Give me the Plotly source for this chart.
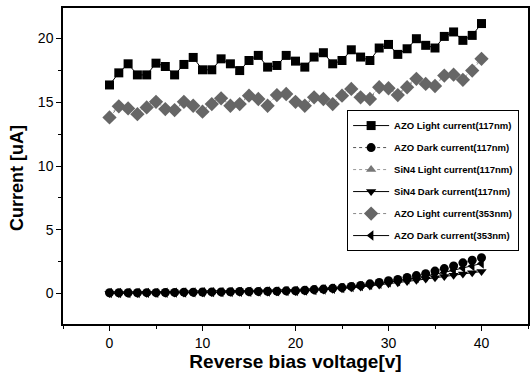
import plotly.graph_objects as go

voltage = list(range(0, 41))

azo_light_117 = [16.36, 17.31, 18.02, 17.15, 17.15, 18.07, 17.81, 17.15, 17.97, 18.52,
                 17.55, 17.55, 18.41, 18.02, 17.49, 18.28, 18.68, 17.76, 17.89, 18.68,
                 18.23, 17.76, 18.55, 18.89, 18.02, 18.28, 19.12, 18.55, 18.28, 19.26,
                 19.54, 18.76, 19.20, 19.99, 19.47, 19.26, 20.17, 20.52, 19.86, 20.25, 21.18]

azo_dark_117 = [0.05, 0.05, 0.05, 0.05, 0.06, 0.06, 0.07, 0.08, 0.10, 0.10,
                0.11, 0.12, 0.12, 0.13, 0.15, 0.15, 0.16, 0.17, 0.18, 0.20,
                0.21, 0.25, 0.30, 0.34, 0.40, 0.46, 0.55, 0.63, 0.75, 0.86,
                1.00, 1.10, 1.25, 1.40, 1.55, 1.75, 1.95, 2.15, 2.40, 2.60, 2.80]

sin4_light_117 = [13.95, 14.75, 14.62, 14.20, 14.72, 15.15, 14.58, 14.45, 15.12, 14.80,
                  14.35, 14.95, 15.40, 14.80, 14.95, 15.60, 15.32, 14.80, 15.65, 15.75,
                  15.12, 14.85, 15.48, 15.35, 14.95, 15.62, 16.15, 15.45, 15.35, 16.25,
                  16.20, 15.65, 16.28, 16.95, 16.55, 16.38, 17.20, 17.28, 16.85, 17.60, 18.60]

sin4_dark_117 = [0.00, 0.00, 0.00, 0.00, 0.01, 0.01, 0.02, 0.03, 0.04, 0.05,
                 0.06, 0.07, 0.08, 0.09, 0.10, 0.10, 0.11, 0.12, 0.13, 0.15,
                 0.16, 0.19, 0.23, 0.27, 0.32, 0.37, 0.44, 0.50, 0.58, 0.66,
                 0.75, 0.83, 0.93, 1.03, 1.13, 1.23, 1.33, 1.43, 1.53, 1.62, 1.72]

azo_light_353 = [13.81, 14.68, 14.52, 14.07, 14.60, 15.04, 14.47, 14.39, 15.04, 14.73,
                 14.26, 14.86, 15.31, 14.73, 14.86, 15.52, 15.26, 14.73, 15.57, 15.65,
                 15.04, 14.73, 15.39, 15.26, 14.86, 15.52, 16.05, 15.39, 15.26, 16.18,
                 16.10, 15.57, 16.18, 16.84, 16.44, 16.28, 17.10, 17.17, 16.76, 17.49, 18.41]

azo_dark_353 = [0.03, 0.03, 0.03, 0.03, 0.04, 0.04, 0.05, 0.06, 0.07, 0.08,
                0.09, 0.10, 0.10, 0.11, 0.12, 0.13, 0.14, 0.15, 0.16, 0.18,
                0.19, 0.22, 0.27, 0.31, 0.37, 0.42, 0.50, 0.57, 0.67, 0.76,
                0.88, 0.97, 1.10, 1.22, 1.35, 1.50, 1.65, 1.82, 2.00, 2.15, 2.35]

x_ticks = [0, 10, 20, 30, 40]
y_ticks = [0, 5, 10, 15, 20]

series = [
    ("AZO Light current(117nm)", azo_light_117, "square", "black", 9, "black", "solid", 1),
    ("AZO Dark current(117nm)", azo_dark_117, "circle", "black", 9, "#555555", "dot", 1),
    ("SiN4 Light current(117nm)", sin4_light_117, "triangle-up", "#777777", 9, "#999999", "dot", 1),
    ("SiN4 Dark current(117nm)", sin4_dark_117, "triangle-down", "black", 9, "black", "solid", 1),
    ("AZO Light current(353nm)", azo_light_353, "diamond", "#666666", 11, "#888888", "dot", 1),
    ("AZO Dark current(353nm)", azo_dark_353, "triangle-left", "black", 9, "black", "solid", 1),
]

fig = go.Figure()
for i, (name, vals, sym, mcol, msize, lcol, dash, lw) in enumerate(series):
    fig.add_trace(go.Scatter(
        x=voltage, y=vals, name=name, mode="lines+markers",
        legendgroup=f"g{i}",
        marker=dict(symbol=sym, color=mcol, size=msize, line=dict(width=0)),
        line=dict(color=lcol, dash=dash, width=lw),
    ))

font_family = "Liberation Sans, Arial, sans-serif"

fig.update_layout(
    width=532, height=376,
    margin=dict(l=63, r=4, t=8, b=52, autoexpand=False),
    paper_bgcolor="white", plot_bgcolor="white",
    font=dict(family=font_family, color="black", size=12),
    showlegend=True,
    legend=dict(
        x=0.611, y=0.677, xanchor="left", yanchor="top",
        bordercolor="black", borderwidth=1, bgcolor="white",
        font=dict(size=9.5, weight="bold", family=font_family),
        traceorder="grouped", tracegroupgap=3, itemwidth=36,
    ),
    xaxis=dict(
        range=[-5, 45], tickmode="array", tickvals=x_ticks,
        ticks="outside", ticklen=5, tickwidth=1, tickcolor="black",
        minor=dict(dtick=5, ticks="outside", ticklen=3, tickcolor="black"),
        showgrid=False, zeroline=False, automargin=False,
        showline=True, linecolor="black", linewidth=1.5, mirror=True,
        title=dict(text="Reverse bias voltage[v]", font=dict(size=19, weight="bold"), standoff=0),
        tickfont=dict(size=14),
    ),
    yaxis=dict(
        range=[-2.4, 22.4], tickmode="array", tickvals=y_ticks,
        ticks="outside", ticklen=5, tickwidth=1, tickcolor="black",
        minor=dict(dtick=2.5, ticks="outside", ticklen=3, tickcolor="black"),
        showgrid=False, zeroline=False, automargin=False,
        showline=True, linecolor="black", linewidth=1.5, mirror=True,
        tickfont=dict(size=14),
    ),
    annotations=[dict(
        text="Current [uA]", textangle=-90, showarrow=False,
        xref="paper", yref="paper", x=-0.099, y=0.462,
        xanchor="center", yanchor="middle",
        font=dict(size=18, weight="bold"),
    )],
)

fig.write_html("out.html", config={"displayModeBar": False},
               post_script="document.body.style.margin='0';")
